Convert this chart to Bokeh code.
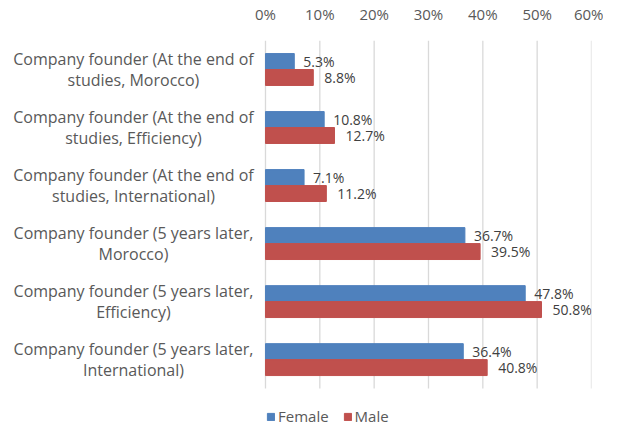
from bokeh.plotting import figure
from bokeh.models import Range1d, Legend, LegendItem, ColumnDataSource, FixedTicker
from bokeh.transform import dodge
from bokeh.core.properties import value
from bokeh.embed import file_html
from bokeh.resources import INLINE

categories = [
    "Company founder (At the end of\nstudies, Morocco)",
    "Company founder (At the end of\nstudies, Efficiency)",
    "Company founder (At the end of\nstudies, International)",
    "Company founder (5 years later,\nMorocco)",
    "Company founder (5 years later,\nEfficiency)",
    "Company founder (5 years later,\nInternational)",
]
female = [5.3, 10.8, 7.1, 36.7, 47.8, 36.4]
male = [8.8, 12.7, 11.2, 39.5, 50.8, 40.8]
x_ticks = [0, 10, 20, 30, 40, 50, 60]
x_tick_labels = ["0%", "10%", "20%", "30%", "40%", "50%", "60%"]

FONT = "Open Sans"
BLUE = "#4F81BD"
RED = "#C0504D"
GRAY = "#595959"

n = len(categories)
# category slot positions, first category on top
cat_y = [n - 0.5 - i for i in range(n)]

src = ColumnDataSource(dict(
    cat=categories,
    y=cat_y,
    female=female,
    male=male,
    female_lbl=[f"{v}%" for v in female],
    male_lbl=[f"{v}%" for v in male],
))

# frame spans the canvas width; negative x hosts the category labels,
# the area below y=0 hosts the legend
X_MIN = -48.77
LABEL_X = -24.3
Y_MIN = -0.653

p = figure(
    width=603, height=426,
    x_range=Range1d(X_MIN, x_ticks[-1]),
    y_range=Range1d(Y_MIN, n),
    x_axis_location="above",
    output_backend="svg", toolbar_location=None,
    min_border_left=0, min_border_right=12, min_border_top=39, min_border_bottom=0,
)

# vertical grid lines over the category area only
p.segment(x0=x_ticks, x1=x_ticks, y0=[0] * len(x_ticks), y1=[n] * len(x_ticks),
          line_color="#D9D9D9", line_width=1.3)

BAR_H = 0.275
rf = p.hbar(y=dodge("y", BAR_H / 2), right="female", height=BAR_H, source=src, color=BLUE)
rm = p.hbar(y=dodge("y", -BAR_H / 2), right="male", height=BAR_H, source=src, color=RED)

p.text(x="female", y=dodge("y", BAR_H / 2), text="female_lbl", source=src,
       x_offset=9, text_baseline="middle", text_align="left", text_font=value(FONT),
       text_font_size="14px", text_color="#404040")
p.text(x="male", y=dodge("y", -BAR_H / 2), text="male_lbl", source=src,
       x_offset=11, text_baseline="middle", text_align="left", text_font=value(FONT),
       text_font_size="14px", text_color="#404040")

# category labels, centred multi-line text
p.text(x=LABEL_X, y="y", text="cat", source=src, text_align="center",
       text_baseline="middle", text_font=value(FONT), text_font_size="16px",
       text_color=GRAY, text_line_height=0.92)

p.yaxis.visible = False
p.xgrid.visible = False
p.ygrid.visible = False
p.outline_line_color = None

xa = p.xaxis[0]
xa.ticker = FixedTicker(ticks=x_ticks)
xa.major_label_overrides = {t: l for t, l in zip(x_ticks, x_tick_labels)}
xa.axis_line_color = None
xa.major_tick_line_color = None
xa.minor_tick_line_color = None
xa.major_label_standoff = 11
xa.major_label_text_font = FONT
xa.major_label_text_font_size = "15px"
xa.major_label_text_color = GRAY

legend = Legend(items=[LegendItem(label="Female", renderers=[rf]),
                       LegendItem(label="Male", renderers=[rm])],
                orientation="horizontal", location=(266, 0),
                label_text_font=FONT, label_text_font_size="15px", label_text_color=GRAY,
                glyph_width=9, glyph_height=9, label_standoff=3, spacing=14,
                padding=3, margin=0, border_line_color=None, background_fill_alpha=0)
p.add_layout(legend, "center")

open("out.html", "w").write(file_html(p, INLINE))
